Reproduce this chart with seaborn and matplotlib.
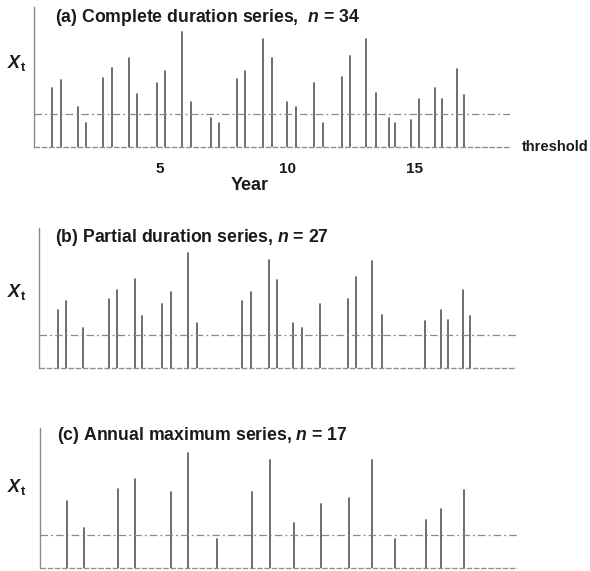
import matplotlib
matplotlib.use("Agg")
import matplotlib.pyplot as plt
import numpy as np
import pandas as pd
import seaborn as sns

# ---- data -------------------------------------------------------------
# occurrence time of each event (years) and its magnitude
event_time = [0.78, 1.12, 1.77, 2.11, 2.78, 3.11, 3.80, 4.10, 4.88, 5.21,
              5.87, 6.22, 7.00, 7.33, 8.01, 8.35, 9.05, 9.38, 9.99, 10.33,
              11.05, 11.39, 12.16, 12.46, 13.08, 13.47, 13.98, 14.23, 14.85, 15.16,
              15.78, 16.05, 16.66, 16.91]
event_value = [58.7, 67.0, 40.3, 24.3, 69.3, 78.7, 89.3, 52.7, 64.3, 76.0,
               115.3, 45.3, 28.7, 24.3, 67.7, 76.0, 108.0, 88.7, 45.3, 40.3,
               64.3, 23.7, 69.7, 91.3, 107.7, 53.7, 28.7, 23.7, 27.0, 47.7,
               58.7, 48.0, 78.0, 52.0]
# hydrologic year each event belongs to
event_year = [1, 1, 2, 2, 3, 3, 4, 4, 5, 5, 6, 6, 7, 7, 8, 8, 9, 9, 10, 10,
              11, 11, 12, 13, 13, 13, 14, 14, 15, 15, 16, 16, 17, 17]
threshold = 33.0
year_ticks = [5, 10, 15]

# ---- derived series -----------------------------------------------------
events = pd.DataFrame({"t": event_time, "x": event_value, "year": event_year})
complete = events
partial = events[events["x"] > threshold]
annual = events.loc[events.groupby("year")["x"].idxmax()]

# ---- style ----------------------------------------------------------------
sns.set_style("white")
plt.rcParams["font.family"] = ["Liberation Sans", "DejaVu Sans"]
plt.rcParams["mathtext.fontset"] = "custom"
plt.rcParams["mathtext.rm"] = "Liberation Sans:bold"
plt.rcParams["mathtext.it"] = "Liberation Sans:italic:bold"
plt.rcParams["mathtext.bf"] = "Liberation Sans:bold"
plt.rcParams["mathtext.bfit"] = "Liberation Sans:italic:bold"

W, H = 590, 571
fig = plt.figure(figsize=(W / 100, H / 100), dpi=100)

stem_color = "#5c5c5c"
line_grey = "#8a8a8a"
text_color = "#1a1a1a"


def px_axes(left, top, right, bottom):
    return fig.add_axes([left / W, 1 - bottom / H, (right - left) / W, (bottom - top) / H])


def draw_panel(ax, series, title, title_xy, label_y, show_ticks=False):
    # one stem per event: a segment from zero up to the event magnitude
    stems = pd.DataFrame({
        "t": np.repeat(series["t"].to_numpy(), 2),
        "x": np.column_stack([np.zeros(len(series)), series["x"].to_numpy()]).ravel(),
        "event": np.repeat(np.arange(len(series)), 2),
    })
    sns.lineplot(data=stems, x="t", y="x", units="event", estimator=None,
                 color=stem_color, lw=1.25, ax=ax, legend=False, sort=False)
    ax.axhline(threshold, color=line_grey, lw=0.9, ls=(0, (6, 2.5, 1.5, 2.5)))
    ax.axhline(0, color="#8f8f8f", lw=1.0, ls=(0, (4, 1.2)), clip_on=False)
    ax.set_xlim(0.06, 18.73)
    ax.set_ylim(0, 140)
    for s in ["top", "right", "bottom"]:
        ax.spines[s].set_visible(False)
    ax.spines["left"].set_color("#8c8c8c")
    ax.spines["left"].set_linewidth(1.0)
    ax.set_xlabel("")
    ax.set_ylabel("")
    ax.set_yticks([])
    if show_ticks:
        ax.set_xticks(year_ticks)
        ax.set_xticklabels([str(v) for v in year_ticks], fontsize=11,
                           fontweight="bold", color=text_color)
        ax.tick_params(axis="x", length=0, pad=10.5)
    else:
        ax.set_xticks([])
    fig.text(title_xy[0] / W, 1 - title_xy[1] / H, title, fontsize=12.7,
             fontweight="bold", color=text_color, ha="left", va="center")
    fig.text(17 / W, 1 - label_y / H, r"$\mathbfit{X}_{\mathrm{t}}$", fontsize=13,
             color=text_color, ha="center", va="center")


ax_a = px_axes(34, 7, 510, 147)
draw_panel(ax_a, complete, r"(a) Complete duration series,  $\mathbfit{n}$ = %d" % len(complete),
           (55, 18), 63, show_ticks=True)
fig.text(250 / W, 1 - 185 / H, "Year", fontsize=13, fontweight="bold",
         color=text_color, ha="center", va="center")
fig.text(522 / W, 1 - 147 / H, "threshold", fontsize=10.5, fontweight="bold",
         color=text_color, ha="left", va="center")

ax_b = px_axes(39.3, 228.3, 516, 368.3)
draw_panel(ax_b, partial, r"(b) Partial duration series, $\mathbfit{n}$ = %d" % len(partial),
           (55, 237), 292)

ax_c = px_axes(40, 428.3, 516.7, 567.7)
draw_panel(ax_c, annual, r"(c) Annual maximum series, $\mathbfit{n}$ = %d" % len(annual),
           (57, 435), 487)

fig.savefig("out.png", dpi=100, facecolor="white")
